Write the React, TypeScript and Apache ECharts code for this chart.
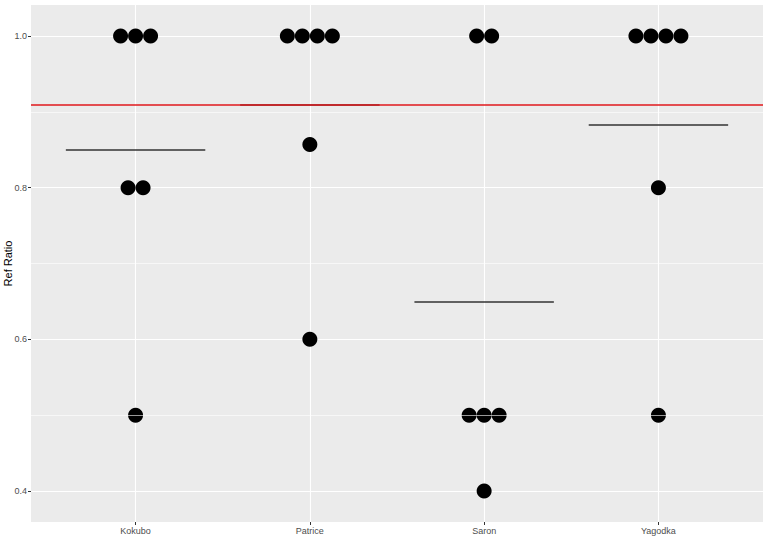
import React, { useEffect, useRef } from "react";
import * as echarts from "echarts";

const categories = ["Kokubo", "Patrice", "Saron", "Yagodka"];
const kokubo = [1.0, 1.0, 1.0, 0.8, 0.8, 0.5];
const patrice = [1.0, 1.0, 1.0, 1.0, 0.857, 0.6];
const saron = [1.0, 1.0, 0.5, 0.5, 0.5, 0.4];
const yagodka = [1.0, 1.0, 1.0, 1.0, 0.8, 0.5];
const groups = [kokubo, patrice, saron, yagodka];
const refValue = 0.912;
const yTicks = [0.4, 0.6, 0.8, 1.0];
const yMinor = [0.5, 0.7, 0.9];

const DOT = 15;
const FONT = "Liberation Sans, Arial, Helvetica, sans-serif";

export default function App() {
  const ref = useRef<HTMLDivElement>(null);
  useEffect(() => {
    if (!ref.current) return;
    const chart = echarts.init(ref.current, null, { renderer: "svg" });

    const points: any[] = [];
    groups.forEach((vals, i) => {
      const counts = new Map<number, number>();
      vals.forEach((v) => counts.set(v, (counts.get(v) || 0) + 1));
      counts.forEach((n, v) => {
        for (let j = 0; j < n; j++) {
          points.push({ value: [i, v], symbolOffset: [(j - (n - 1) / 2) * DOT, 0] });
        }
      });
    });
    const means = groups.map((vals) => vals.reduce((a, b) => a + b, 0) / vals.length);

    chart.setOption({
      animation: false,
      grid: {
        left: 31,
        right: 5,
        top: 5,
        bottom: 31,
        containLabel: false,
        outerBoundsMode: "none",
        show: true,
        backgroundColor: "#ebebeb",
        borderWidth: 0,
      },
      xAxis: {
        type: "value",
        min: -0.6,
        max: 3.6,
        axisLine: { show: false, onZero: false },
        axisTick: {
          show: true,
          customValues: [0, 1, 2, 3],
          length: 3,
          lineStyle: { color: "#333333", width: 1 },
        },
        axisLabel: {
          customValues: [0, 1, 2, 3],
          formatter: (v: number) => categories[Math.round(v)] ?? "",
          color: "#4d4d4d",
          fontSize: 9,
          fontFamily: FONT,
          margin: 4,
        },
        splitLine: { show: true, lineStyle: { color: "#ffffff", width: 1.1 } },
      },
      yAxis: {
        type: "value",
        min: 0.3591,
        max: 1.0409,
        name: "Ref Ratio",
        nameLocation: "middle",
        nameRotate: 90,
        nameGap: 18,
        nameMoveOverlap: false,
        nameTextStyle: { color: "#000000", fontSize: 11, fontFamily: FONT },
        axisLine: { show: false, onZero: false },
        axisTick: {
          show: true,
          customValues: yTicks,
          length: 3,
          lineStyle: { color: "#333333", width: 1 },
        },
        axisLabel: {
          customValues: yTicks,
          formatter: (v: number) => v.toFixed(1),
          color: "#4d4d4d",
          fontSize: 9,
          fontFamily: FONT,
          margin: 4,
        },
        splitLine: { show: true, lineStyle: { color: "#ffffff", width: 1.1 } },
      },
      series: [
        {
          type: "line",
          data: [],
          silent: true,
          z: 1,
          markLine: {
            silent: true,
            symbol: "none",
            label: { show: false },
            lineStyle: { color: "#ffffff", width: 0.6, type: "solid" },
            data: yMinor.map((v) => ({ yAxis: v })),
          },
        },
        {
          type: "scatter",
          data: points,
          symbol: "circle",
          symbolSize: DOT,
          itemStyle: { color: "#000000", opacity: 1 },
          z: 3,
        },
        {
          type: "line",
          data: [],
          silent: true,
          z: 4,
          markLine: {
            silent: true,
            symbol: "none",
            label: { show: false },
            lineStyle: { color: "#333333", width: 1.6, type: "solid" },
            data: means.map((m, i) => [
              { coord: [i - 0.4, m] },
              { coord: [i + 0.4, m] },
            ]),
          },
        },
        {
          type: "line",
          data: [],
          silent: true,
          z: 5,
          markLine: {
            silent: true,
            symbol: "none",
            label: { show: false },
            lineStyle: { color: "#e0191c", width: 1.6, type: "solid" },
            data: [{ yAxis: refValue }],
          },
        },
      ],
    });
    return () => chart.dispose();
  }, []);

  return <div ref={ref} style={{ width: 768, height: 553, position: "fixed", left: 0, top: 0, background: "#ffffff" }} />;
}
